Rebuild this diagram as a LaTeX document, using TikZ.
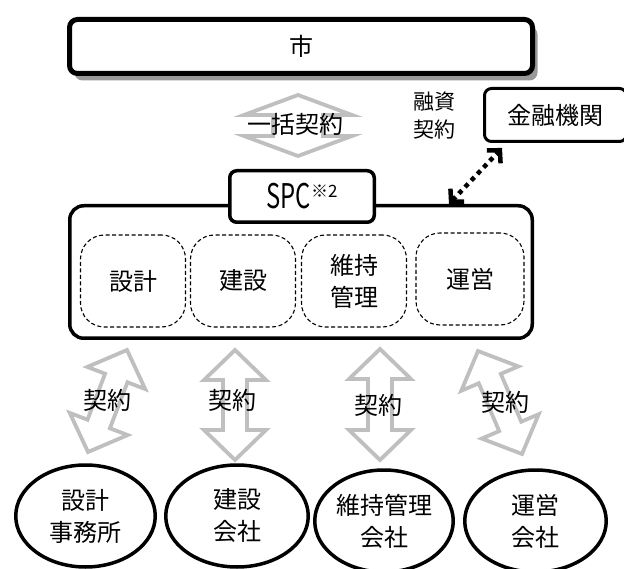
\documentclass[tikz,border=0pt]{standalone}
\usepackage{fontspec}
\setmainfont{Noto Sans CJK JP}
\usetikzlibrary{calc,shapes.geometric,arrows.meta,shadows}
\newcommand\hollowarr[5]{%
  \coordinate (ha1) at ($(#1)!#3!(#2)$);
  \coordinate (ha2) at ($(#2)!#3!(#1)$);
  \draw[gar] (#1) -- ($(ha1)!#4!90:(#2)$) -- ($(ha1)!#5!90:(#2)$) -- ($(ha2)!#5!-90:(#1)$) -- ($(ha2)!#4!-90:(#1)$) -- (#2) -- ($(ha2)!#4!90:(#1)$) -- ($(ha2)!#5!90:(#1)$) -- ($(ha1)!#5!-90:(#2)$) -- ($(ha1)!#4!-90:(#2)$) -- cycle;}
\tikzset{
  txt/.style={font=\fontsize{24}{32}\selectfont, align=center, inner sep=0pt},
  gar/.style={draw=black!25, line width=3.8pt, fill=white, line join=miter},
  rbox/.style={draw, fill=white, line width=3.5pt, rounded corners=7pt, inner sep=0pt, txt},
  dbox/.style={draw, dash pattern=on 4pt off 2.5pt, line width=1.1pt, rounded corners=24pt, minimum width=105pt, minimum height=92pt, inner sep=0pt, txt},
  ell/.style={draw, ellipse, line width=3.5pt, minimum height=102pt, inner sep=0pt, txt},
}
\begin{document}
\begin{tikzpicture}[x=1pt,y=-1pt]
\useasboundingbox (0,0) rectangle (624,569);
% city
\node[rbox, line width=5pt, rounded corners=8pt, minimum width=463pt, minimum height=54pt,
  drop shadow={shadow xshift=5pt, shadow yshift=-7pt, opacity=1, fill=black!40}] (city) at (301,46.5) {市};
% financial institution
\node[rbox, line width=3pt, minimum width=142pt, minimum height=53pt] (bank) at (555.5,115) {金融機関};
\node[txt, font=\fontsize{21}{28}\selectfont] (loan) at (434,116) {融資\\契約};
% lump-sum contract arrow
\coordinate (la) at (298,95);
\coordinate (lb) at (298,156);
\hollowarr{la}{lb}{20pt}{54pt}{25pt}
\node[txt] (lump) at (295,124) {一括契約};
% SPC big box
\node[draw, line width=3.5pt, rounded corners=14pt, minimum width=462.5pt, minimum height=132.5pt] (spc) at (301,272) {};
\node[rbox, minimum width=144.5pt, minimum height=51.5pt] (spclabel) at (302,196.5)
  {\scalebox{0.7}[1]{\fontsize{34}{34}\selectfont SPC}\raisebox{11pt}{\fontsize{17}{17}\selectfont ※2}};
% inner dashed boxes
\node[dbox] (d1) at (133,281) {設計};
\node[dbox] (d2) at (243,281) {建設};
\node[dbox] (d3) at (354,281) {維持\\管理};
\node[dbox, minimum width=108pt] (d4) at (470,279) {運営};
% dotted finance arrow
\coordinate (fa) at (449,204);
\coordinate (fb) at (502,148);
\draw[line width=4.5pt, dash pattern=on 4.5pt off 4.5pt, {Straight Barb[length=9pt,width=19pt]}-{Straight Barb[length=9pt,width=19pt]}] (fa) -- (fb);
% contract arrows
\coordinate (t1) at (127,350); \coordinate (b1) at (88,452);
\coordinate (t2) at (235,350); \coordinate (b2) at (235,460);
\coordinate (t3) at (380,349); \coordinate (b3) at (380,460);
\coordinate (t4) at (478,351); \coordinate (b4) at (522,454);
\hollowarr{t1}{b1}{30pt}{31pt}{12pt}
\hollowarr{t2}{b2}{30pt}{31pt}{12pt}
\hollowarr{t3}{b3}{30pt}{31pt}{12pt}
\hollowarr{t4}{b4}{30pt}{31pt}{12pt}
\node[txt] (c1) at (107,400) {契約};
\node[txt] (c2) at (232,400) {契約};
\node[txt] (c3) at (378,405) {契約};
\node[txt] (c4) at (505,402) {契約};
% companies
\node[ell, minimum width=139.5pt] (e1) at (85.5,516) {設計\\事務所};
\node[ell, minimum width=142.5pt] (e2) at (237,516) {建設\\会社};
\node[ell, minimum width=138.5pt] (e3) at (384,521) {維持管理\\会社};
\node[ell, minimum width=141.5pt] (e4) at (535.5,521) {運営\\会社};
\end{tikzpicture}
\end{document}
